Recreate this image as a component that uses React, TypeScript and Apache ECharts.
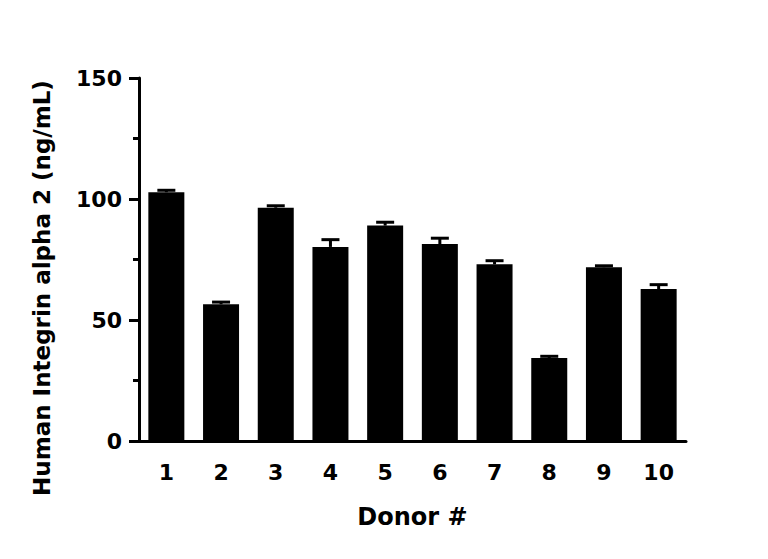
import React, { useRef, useEffect } from 'react';
import * as echarts from 'echarts';

const DONORS = ['1', '2', '3', '4', '5', '6', '7', '8', '9', '10'];
const MEANS = [102.8, 56.5, 96.4, 80.2, 89.0, 81.4, 73.0, 34.3, 71.8, 62.8];
const ERRORS = [0.8, 0.9, 0.8, 3.0, 1.4, 2.4, 1.5, 0.7, 0.6, 1.8];
const Y_TICKS = [0, 50, 100, 150];

const FONT = '"DejaVu Sans", sans-serif';

const App: React.FC = () => {
  const chartRef = useRef<HTMLDivElement>(null);

  useEffect(() => {
    if (!chartRef.current) return;
    const chart = echarts.init(chartRef.current, undefined, { renderer: 'svg' });

    const option: echarts.EChartsOption = {
      animation: false,
      backgroundColor: '#ffffff',
      grid: { left: 139, right: 82, top: 78, bottom: 118 },
      xAxis: {
        type: 'category',
        data: DONORS,
        name: 'Donor #',
        nameLocation: 'middle',
        nameGap: 64,
        nameTextStyle: { color: '#000', fontFamily: FONT, fontWeight: 'bold', fontSize: 24 },
        axisLine: { lineStyle: { color: '#000', width: 3 } },
        axisTick: { alignWithLabel: true, length: 12, lineStyle: { color: '#000', width: 3 } },
        axisLabel: { color: '#000', fontFamily: FONT, fontWeight: 'bold', fontSize: 22, margin: 20 },
      },
      yAxis: {
        type: 'value',
        min: Y_TICKS[0],
        max: Y_TICKS[Y_TICKS.length - 1],
        interval: 50,
        axisLine: { show: true, lineStyle: { color: '#000', width: 3 } },
        axisTick: { show: true, length: 10, lineStyle: { color: '#000', width: 3 } },
        minorTick: { show: true, splitNumber: 2, length: 6, lineStyle: { color: '#000', width: 3 } },
        splitLine: { show: false },
        axisLabel: { color: '#000', fontFamily: FONT, fontWeight: 'bold', fontSize: 22, margin: 17 },
      },
      graphic: [
        {
          type: 'text',
          x: 42,
          y: 288,
          rotation: Math.PI / 2,
          style: {
            text: 'Human Integrin alpha 2 (ng/mL)',
            fill: '#000',
            font: `bold 23px ${FONT}`,
            align: 'center',
            verticalAlign: 'middle',
          },
        },
      ],
      series: [
        {
          type: 'bar',
          data: MEANS,
          barWidth: 36,
          itemStyle: { color: '#000' },
        },
        {
          type: 'custom',
          data: MEANS.map((m, i) => [i, m, m + ERRORS[i]]),
          z: 1,
          renderItem: (params: any, api: any) => {
            const base = api.coord([api.value(0), api.value(1)]);
            const top = api.coord([api.value(0), api.value(2)]);
            const half = 9;
            return {
              type: 'group',
              children: [
                {
                  type: 'line',
                  shape: { x1: base[0], y1: base[1], x2: top[0], y2: top[1] },
                  style: { stroke: '#000', lineWidth: 3 },
                },
                {
                  type: 'line',
                  shape: { x1: top[0] - half, y1: top[1], x2: top[0] + half, y2: top[1] },
                  style: { stroke: '#000', lineWidth: 3 },
                },
              ],
            };
          },
        },
      ],
    };

    chart.setOption(option);
    return () => chart.dispose();
  }, []);

  return (
    <div
      ref={chartRef}
      style={{ position: 'fixed', left: 0, top: 0, width: 768, height: 559 }}
    />
  );
};

export default App;
